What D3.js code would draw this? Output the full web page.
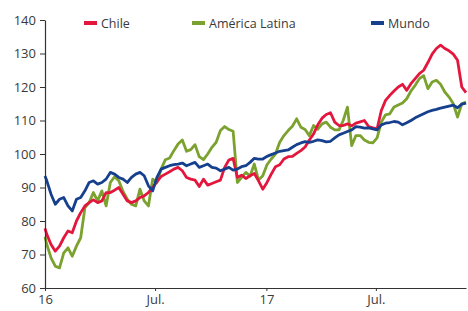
<html>
<head>
<meta charset="utf-8" />
<script src="https://d3js.org/d3.v7.min.js"></script>
<style>
  body { margin: 0; background: #fff; }
  text { font-family: "Open Sans", "DejaVu Sans", sans-serif; fill: #3a3a3a; }
</style>
</head>
<body>
<svg id="chart" width="468" height="311"></svg>
<script>
// weekly observations, first point is Jan 1 2016 then Mondays
var dates = ["16-01-01",
  "16-01-04","16-01-11","16-01-18","16-01-25","16-02-01","16-02-08","16-02-15","16-02-22","16-02-29","16-03-07",
  "16-03-14","16-03-21","16-03-28","16-04-04","16-04-11","16-04-18","16-04-25","16-05-02","16-05-09","16-05-16",
  "16-05-23","16-05-30","16-06-06","16-06-13","16-06-20","16-06-27","16-07-04","16-07-11","16-07-18","16-07-25",
  "16-08-01","16-08-08","16-08-15","16-08-22","16-08-29","16-09-05","16-09-12","16-09-19","16-09-26","16-10-03",
  "16-10-10","16-10-17","16-10-24","16-10-31","16-11-07","16-11-14","16-11-21","16-11-28","16-12-05","16-12-12",
  "16-12-19","16-12-26","17-01-02","17-01-09","17-01-16","17-01-23","17-01-30","17-02-06","17-02-13","17-02-20",
  "17-02-27","17-03-06","17-03-13","17-03-20","17-03-27","17-04-03","17-04-10","17-04-17","17-04-24","17-05-01",
  "17-05-08","17-05-15","17-05-22","17-05-29","17-06-05","17-06-12","17-06-19","17-06-26","17-07-03","17-07-10",
  "17-07-17","17-07-24","17-07-31","17-08-07","17-08-14","17-08-21","17-08-28","17-09-04","17-09-11","17-09-18",
  "17-09-25","17-10-02","17-10-09","17-10-16","17-10-23","17-10-30","17-11-06","17-11-13","17-11-20","17-11-27"];

var chile = [77.8,
  76,73,71,72.5,75,77,76.5,80,82.5,84.5,
  85.5,86.3,85.5,86,88.5,88.5,89.2,90,88,86,
  85.5,86,87,87.5,88.5,90,91.7,93.3,94,94.7,
  95.5,96,95,93,92.5,92.2,90.3,92.5,90.7,91.2,
  91.7,92.2,96,98.2,98.7,93,93.7,92.7,93.5,94.2,
  92,89.5,91.5,94,96.2,96.8,98.5,99.2,99.3,100.2,
  101,102.1,104.2,106,108.7,110.7,111.8,112.3,109.5,108.5,
  108.5,109,108.4,109.2,109.6,110,108.2,107.8,107.5,113,
  116,117.5,118.8,120,120.8,119,121,122.5,124,125,
  127.3,129.8,131.5,132.5,131.5,130.8,129.8,128,120,118.3];

var latam = [75.3,
  73,69,66.5,66,70.5,72,69.5,72.5,75,84,
  85.5,88.5,86,89,84.5,91.5,93.2,92,88.8,86.5,
  85,84.5,89.5,86,84.5,92.5,91.5,95.5,98.3,98.8,
  101,103,104.2,100.8,101.3,102.8,99.2,98.3,100,102,
  103.5,107,108.2,107.3,106.8,91.5,93,94.5,93.4,97,
  92.2,93.5,96.8,98.5,100,103.5,105.5,107,108.3,110.5,
  108,107.3,105.5,108.5,107.4,109,109.5,108,107.2,107.2,
  110,114,102.5,105.5,105.5,104.2,103.5,103.3,104.8,109.5,
  111.7,112,114,114.6,115.2,116.5,118.8,120.5,122.5,123.4,
  119.5,121.5,122,120.8,118.5,117,115,111,115,115.5];

var mundo = [93.4,
  92,88,85,86.5,87,84.5,83,86.5,87,89,
  91.5,92,91,91.5,92.5,94.5,94,93,92.5,91.5,
  93,94,94.5,93.5,90.5,89,93,95.5,96,96.5,
  96.8,97,97.3,96.5,97,97.5,96,96.5,97,96,
  95.8,95,95.5,96,95.2,95.5,96.2,96.5,97.5,98.7,
  98.5,98.5,99.3,99.8,100.3,100.8,101,101.2,102,102.8,
  103.3,103.7,103.5,103.8,104.2,104,103.6,103.8,104.8,105.7,
  106.2,106.7,107.2,108.2,108,107.7,107.8,107.5,107.2,108.7,
  109.2,109.4,109.7,109.5,108.7,109.3,110,110.8,111.4,112,
  112.6,113,113.3,113.7,114,114.3,114.6,113.8,114.9,115.2];

var seriesNames = ["Chile", "América Latina", "Mundo"];
var seriesColors = ["#e3173e", "#7ba22e", "#163f8e"];
var yTicks = [60, 70, 80, 90, 100, 110, 120, 130, 140];
var xTickDates = ["16-01-01", "16-07-01", "17-01-01", "17-07-01"];
var xTickLabels = ["16", "Jul.", "17", "Jul."];

var parse = d3.timeParse("%y-%m-%d");
var svg = d3.select("#chart");
var margin = { top: 20, right: 2, bottom: 23, left: 45 };
var width = 468, height = 311;

var x = d3.scaleTime()
  .domain([parse("16-01-01"), parse("17-11-27")])
  .range([margin.left, width - margin.right]);
var y = d3.scaleLinear().domain([60, 140]).range([height - margin.bottom, margin.top]);

var allSeries = [chile, latam, mundo];

// lines (Mundo on top)
var line = d3.line()
  .x(function (d, i) { return x(parse(dates[i])); })
  .y(function (d) { return y(d); });

[1, 0, 2].forEach(function (s) {
  svg.append("path")
    .attr("d", line(allSeries[s]))
    .attr("fill", "none")
    .attr("stroke", seriesColors[s])
    .attr("stroke-width", 2.8)
    .attr("stroke-linejoin", "round");
});

// y axis
var yAxis = svg.append("g")
  .attr("transform", "translate(" + margin.left + ",0)")
  .call(d3.axisLeft(y).tickValues(yTicks).tickSize(5).tickSizeOuter(0).tickPadding(4));
yAxis.select(".domain").attr("stroke", "#333").attr("stroke-width", 1.2);
yAxis.selectAll(".tick line").attr("stroke", "#333");
yAxis.selectAll("text").style("font-size", "13px").attr("fill", "#3a3a3a");

// x axis
var xAxis = svg.append("g")
  .attr("transform", "translate(0," + y(60) + ")")
  .call(d3.axisBottom(x)
    .tickValues(xTickDates.map(parse))
    .tickFormat(function (d, i) { return xTickLabels[i]; })
    .tickSize(3).tickSizeOuter(0).tickPadding(4));
xAxis.select(".domain").attr("stroke", "#333").attr("stroke-width", 1.2);
xAxis.selectAll(".tick line").attr("stroke", "#333");
xAxis.selectAll("text").style("font-size", "13px").attr("fill", "#3a3a3a");

// legend
var legendX = [84, 192, 371];
var legend = svg.append("g");
seriesNames.forEach(function (name, i) {
  legend.append("rect")
    .attr("x", legendX[i]).attr("y", 21)
    .attr("width", 13).attr("height", 4)
    .attr("fill", seriesColors[i]);
  legend.append("text")
    .attr("x", legendX[i] + 17).attr("y", 27.5)
    .style("font-size", "12.5px")
    .text(name);
});
</script>
</body>
</html>
